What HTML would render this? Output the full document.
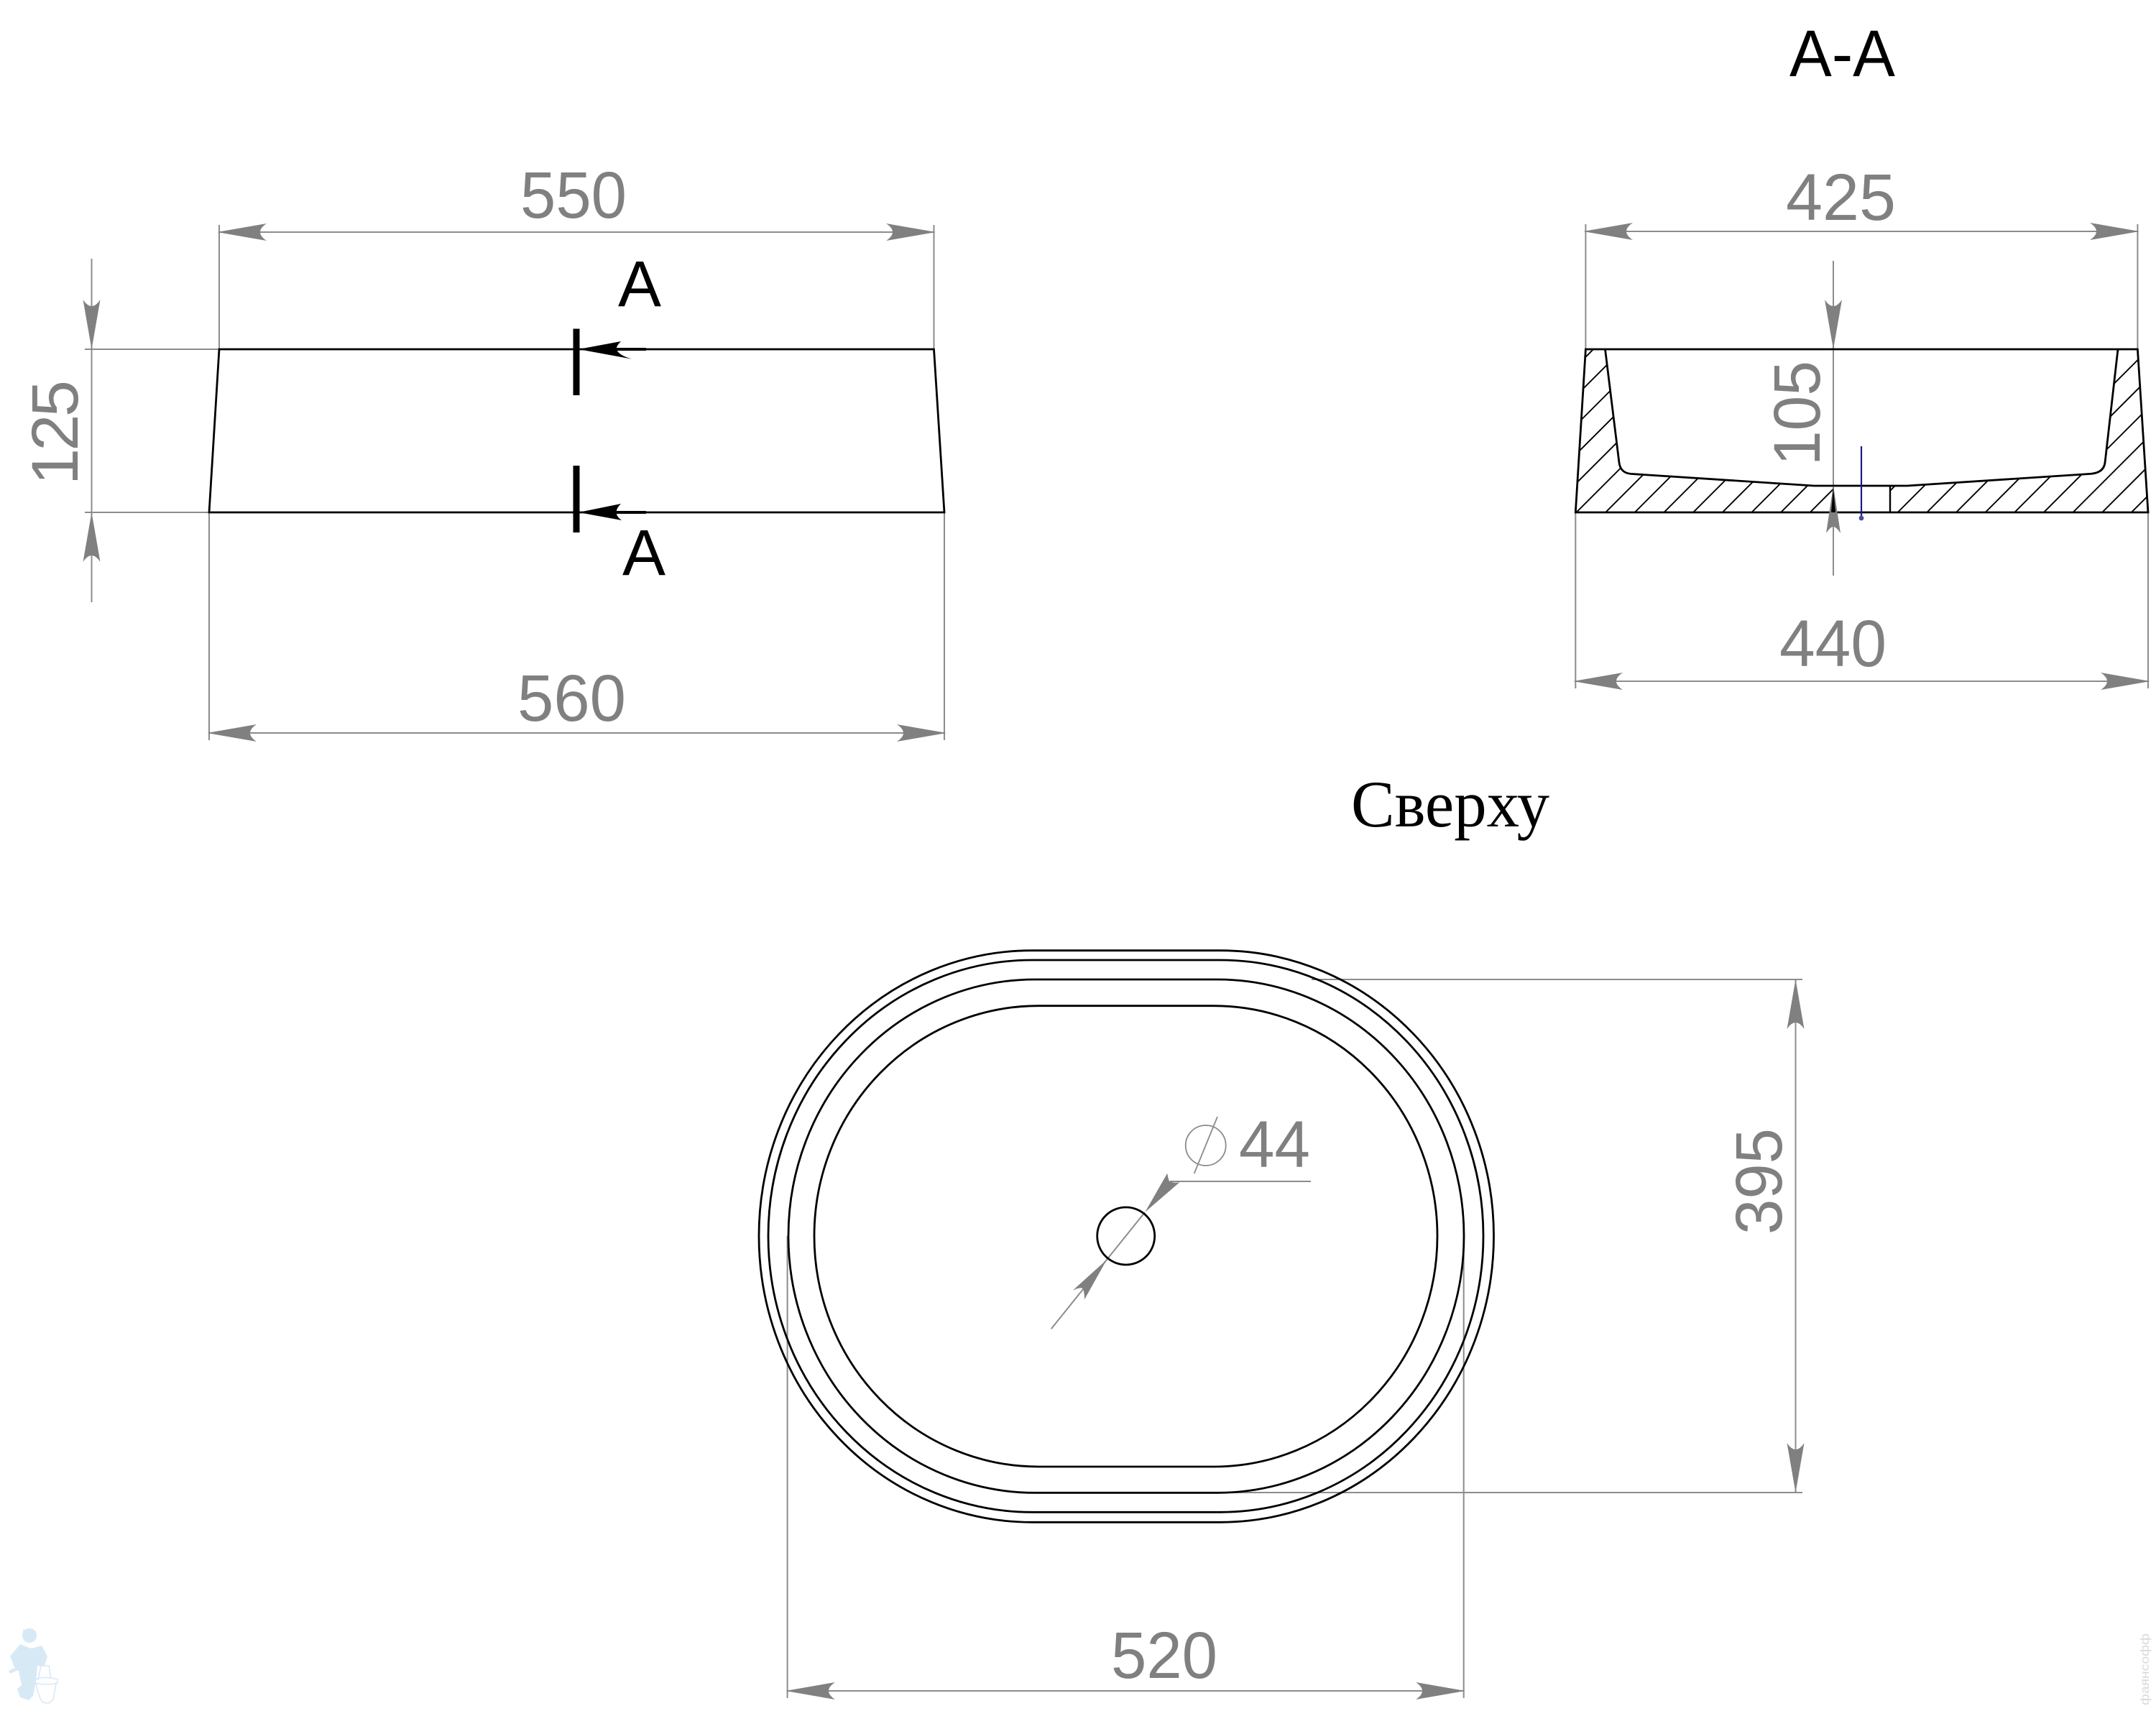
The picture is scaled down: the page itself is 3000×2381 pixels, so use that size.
<!DOCTYPE html>
<html>
<head>
<meta charset="utf-8">
<style>
html,body{margin:0;padding:0;background:#fff}
svg{display:block}
.d{font-family:"Liberation Sans",sans-serif;font-size:92px;fill:#808080}
.k{font-family:"Liberation Sans",sans-serif;font-size:90px;fill:#000}
.g{stroke:#8c8c8c;stroke-width:2;fill:none}
.b{stroke:#000;stroke-width:2.8;fill:none}
</style>
</head>
<body>
<svg xmlns="http://www.w3.org/2000/svg" width="3000" height="2381" viewBox="0 0 3000 2381">
<defs>
<path id="ar" d="M0 0L69 -12Q60 -6 60 0Q60 6 69 12Z" fill="#808080"/>
<clipPath id="sec"><path d="M2206.4 486H2233.5L2253 644Q2255 658 2269 659.4L2524 676H2551V713H2192.3ZM2630 676H2654L2909 659.4Q2927 658 2929 644L2947 486H2974.4L2989 713H2630Z"/></clipPath>
</defs>
<rect width="3000" height="2381" fill="#fff"/>

<!-- Front view -->
<path class="g" d="M305 313V486M1299.5 313V486M291 713V1030M1314 713V1030M118 486H305M118 713H291M127.5 360V838M305 323H1299.5M291 1020H1314"/>
<use href="#ar" transform="translate(302 323)"/>
<use href="#ar" transform="translate(1302 323) rotate(180)"/>
<use href="#ar" transform="translate(288 1020)"/>
<use href="#ar" transform="translate(1317 1020) rotate(180)"/>
<use href="#ar" transform="translate(127.5 486) rotate(-90)"/>
<use href="#ar" transform="translate(127.5 713) rotate(90)"/>
<path class="b" d="M305 486H1299.5L1314 713H291Z"/>
<path d="M802 457.5V550M802 648V741" stroke="#000" stroke-width="9" fill="none"/>
<path d="M858 486H899M858 713H899" stroke="#000" stroke-width="4" fill="none"/>
<path d="M805 486L864 475Q857 482 858 486Q860 494 879 499.6Z" fill="#000"/>
<path d="M805 713L864 701Q857 708 858 713Q857 718 865 724Z" fill="#000"/>
<text class="k" x="860" y="426">A</text>
<text class="k" x="866" y="800">A</text>
<text class="d" x="724" y="303" textLength="148" lengthAdjust="spacingAndGlyphs">550</text>
<text class="d" x="720" y="1003" textLength="151" lengthAdjust="spacingAndGlyphs">560</text>
<text class="d" transform="translate(108 675) rotate(-90)" textLength="146" lengthAdjust="spacing">125</text>

<!-- Section A-A -->
<text class="d" x="2490" y="106" style="fill:#000" textLength="147" lengthAdjust="spacingAndGlyphs">A-A</text>
<path class="g" d="M2206.4 312V486M2974.4 312V486M2192.3 713V958M2989 713V958M2206.4 322H2974.4M2192.3 948H2989M2551 363V801"/>
<use href="#ar" transform="translate(2203 322)"/>
<use href="#ar" transform="translate(2977 322) rotate(180)"/>
<use href="#ar" transform="translate(2189 948)"/>
<use href="#ar" transform="translate(2992 948) rotate(180)"/>
<use href="#ar" transform="translate(2551 486) rotate(-90)"/>
<g clip-path="url(#sec)">
<path d="M1949.5 713l300-300M1990.15 713l300-300M2030.8 713l300-300M2071.45 713l300-300M2112.1 713l300-300M2152.75 713l300-300M2193.4 713l300-300M2234.05 713l300-300M2274.7 713l300-300M2315.35 713l300-300M2356 713l300-300M2396.65 713l300-300M2437.3 713l300-300M2477.95 713l300-300M2518.6 713l300-300M2559.25 713l300-300M2599.9 713l300-300M2640.55 713l300-300M2681.2 713l300-300M2721.85 713l300-300M2762.5 713l300-300M2803.15 713l300-300M2843.8 713l300-300M2884.45 713l300-300M2925.1 713l300-300M2965.75 713l300-300" stroke="#000" stroke-width="1.9" fill="none"/>
</g>
<path class="b" d="M2206.4 486H2974.4L2989 713H2192.3Z"/>
<path class="b" d="M2233.5 486L2253 644Q2255 658 2269 659.4L2524 676H2654L2909 659.4Q2927 658 2929 644L2947 486"/>
<path d="M2630 676V713" stroke="#000" stroke-width="2.4" fill="none"/>
<path d="M2551 676L2541 742Q2547 733 2551 733Q2555 733 2561 742Z" fill="#808080"/>
<path d="M2551 678L2548 713H2554Z" fill="#000"/>
<path d="M2590 621V720" stroke="#1a1a8c" stroke-width="2.2" fill="none"/>
<circle cx="2590" cy="721" r="3.4" fill="#4a4aa8"/>
<text class="d" x="2485" y="306" textLength="153" lengthAdjust="spacingAndGlyphs">425</text>
<text class="d" x="2476" y="927" textLength="149" lengthAdjust="spacingAndGlyphs">440</text>
<text class="d" transform="translate(2532 648) rotate(-90)" textLength="146" lengthAdjust="spacingAndGlyphs">105</text>

<!-- Top view -->
<text x="1880" y="1150" font-family="'Liberation Serif','Noto Serif CJK SC',serif" font-size="92" fill="#000" textLength="276" lengthAdjust="spacingAndGlyphs">Сверху</text>
<path class="g" d="M1825 1363H2508M1711 2077H2508M2498.5 1363V2077M1095.6 1720V2363M2036.7 1720V2363M1095.6 2353H2036.7M1628 1644H1824M1462.7 1849.3L1593 1687"/>
<use href="#ar" transform="translate(2498.5 1363) rotate(90)"/>
<use href="#ar" transform="translate(2498.5 2077) rotate(-90)"/>
<use href="#ar" transform="translate(1093 2353)"/>
<use href="#ar" transform="translate(2039 2353) rotate(180)"/>
<path class="b" d="M1436 1322.7H1698A380.5 397.3 0 0 1 2078.5 1720A380.5 398.3 0 0 1 1698 2118.3H1436A380 398.3 0 0 1 1056 1720A380 397.3 0 0 1 1436 1322.7Z"/>
<path class="b" d="M1436 1336H1698A366 384 0 0 1 2064 1720A366 384.3 0 0 1 1698 2104.3H1436A367 384.3 0 0 1 1069 1720A367 384 0 0 1 1436 1336Z"/>
<path class="b" d="M1440 1363H1694A343 357 0 0 1 2037 1720A343 357.3 0 0 1 1694 2077.3H1440A343 357.3 0 0 1 1097 1720A343 357 0 0 1 1440 1363Z"/>
<path class="b" d="M1445 1399.7H1689A311 320.3 0 0 1 2000 1720A311 321 0 0 1 1689 2041H1445A312 321 0 0 1 1133 1720A312 320.3 0 0 1 1445 1399.7Z"/>
<circle class="b" cx="1566.7" cy="1720" r="40"/>
<path d="M1593.3 1686.7L1624.3 1632.7Q1626 1644 1628 1644Q1634 1647 1641.7 1645Z" fill="#808080"/>
<path d="M1540 1753L1492.7 1795.7Q1502 1791 1506.7 1793Q1509 1798 1509 1808.3Z" fill="#808080"/>
<circle cx="1677.7" cy="1594" r="28" fill="none" stroke="#8c8c8c" stroke-width="1.8"/>
<path d="M1694 1554L1661.7 1633" stroke="#8c8c8c" stroke-width="1.8" fill="none"/>
<text class="d" x="1724" y="1624" textLength="99" lengthAdjust="spacingAndGlyphs">44</text>
<text class="d" transform="translate(2479 1718) rotate(-90)" textLength="148" lengthAdjust="spacingAndGlyphs">395</text>
<text class="d" x="1546" y="2335" textLength="148" lengthAdjust="spacingAndGlyphs">520</text>

<!-- Watermarks -->
<g fill="#d8e9f6">
<circle cx="41" cy="2276" r="10"/>
<path d="M32 2268L42 2267L50 2270L50 2277L34 2282Z"/>
<path d="M28 2288L38 2292L44 2294L58 2290L66 2305L62 2318L52 2318L50 2340L46 2360L40 2366L28 2362L24 2350L30 2345L26 2325L20 2320L14 2305Z"/>
<path d="M12 2325L34 2315L42 2312L50 2312L42 2322L30 2322L14 2329Z"/>
</g>
<g fill="none" stroke="#d8e9f6" stroke-width="1.6">
<path d="M53 2338L57 2318H68L71 2336"/>
<path d="M49 2337Q62 2332 80 2337V2342Q62 2346 49 2342Z"/>
<path d="M50 2343Q54 2360 58 2367Q60 2370 68 2370L74 2365L78 2343"/>
</g>
<text transform="translate(2990 2373) rotate(-90)" font-family="'Liberation Sans',sans-serif" font-size="17" fill="#d9d9d9" textLength="100" lengthAdjust="spacingAndGlyphs">фаянсофф</text>
</svg>
</body>
</html>
